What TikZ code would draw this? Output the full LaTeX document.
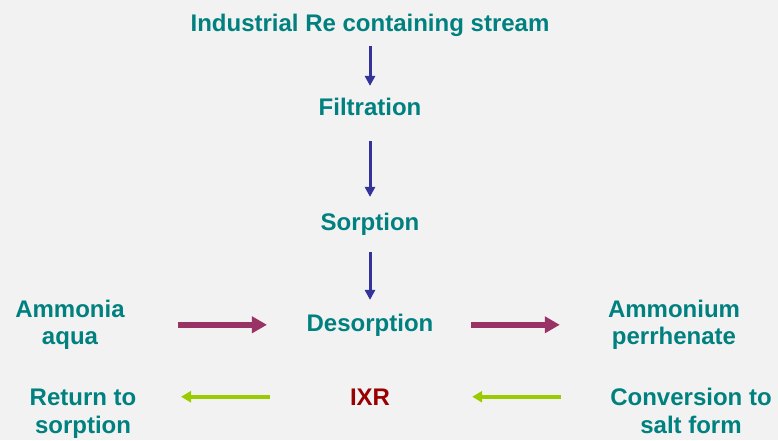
\documentclass[tikz,border=0pt]{standalone}
\usepackage{fontspec}
\setmainfont{Liberation Sans}
\usetikzlibrary{arrows.meta,positioning,calc}
\definecolor{rxteal}{HTML}{00807F}
\definecolor{rxred}{HTML}{990000}
\definecolor{rxblue}{HTML}{333399}
\definecolor{rxplum}{HTML}{993366}
\definecolor{rxlime}{HTML}{99CC00}
\definecolor{rxbg}{HTML}{F2F2F2}
\tikzset{
 stage/.style={font=\fontsize{24}{27.5}\selectfont\bfseries, text=rxteal,
 align=center, inner sep=0pt, anchor=base},
 resin/.style={stage, text=rxred},
 darrow/.style={-{Triangle[length=10pt,width=10pt]}, draw=rxblue, line width=3pt},
 parrow/.style={-{Triangle[length=15pt,width=16pt]}, draw=rxplum, line width=5.5pt},
 garrow/.style={-{Triangle[length=10pt,width=11pt]}, draw=rxlime, line width=4pt},
}

\begin{document}
\begin{tikzpicture}[x=1pt,y=1pt]

% --- canvas
\fill[rxbg] (0,0) rectangle (778,-440);
\useasboundingbox (0,0) rectangle (778,-440);

% --- main column
\node[stage] (feed)   at (370,-31.5) {Industrial Re containing stream};
\node[stage] (filt)   at (370,-115)  {Filtration};
\node[stage] (sorp)   at (370,-230)  {Sorption};
\node[stage] (desorp) at (370,-331)  {Desorption};
\node[resin] (ixr)    at (370,-405)  {IXR};

% --- side streams (base = last line)
\node[stage] (amm)  at (70,-344.5)  {Ammonia\\aqua};
\node[stage] (apr)  at (674,-344.5) {Ammonium\\perrhenate};
\node[stage] (ret)  at (83,-433)    {Return to\\sorption};
\node[stage] (conv) at (691,-433)   {Conversion to\\salt form};

% --- arrows down
\draw[darrow, shorten <=9pt,  shorten >=11.5pt] (feed) -- (filt);
\draw[darrow, shorten <=26pt, shorten >=15.5pt] (filt) -- (sorp);
\draw[darrow, shorten <=17pt, shorten >=13.5pt] (sorp) -- (desorp);

% --- desorption line
\draw[parrow, shorten <=53pt,   shorten >=39.5pt] (amm.east |- desorp.west) -- (desorp.west);
\draw[parrow, shorten <=37.5pt, shorten >=48pt]   (desorp.east) -- (apr.west |- desorp.east);

% --- regeneration line
\draw[garrow, shorten <=49.5pt, shorten >=82pt]   (conv.west |- ixr.east) -- (ixr.east);
\draw[garrow, shorten <=80pt,   shorten >=44.5pt] (ixr.west) -- (ret.east |- ixr.west);

\end{tikzpicture}
\end{document}
